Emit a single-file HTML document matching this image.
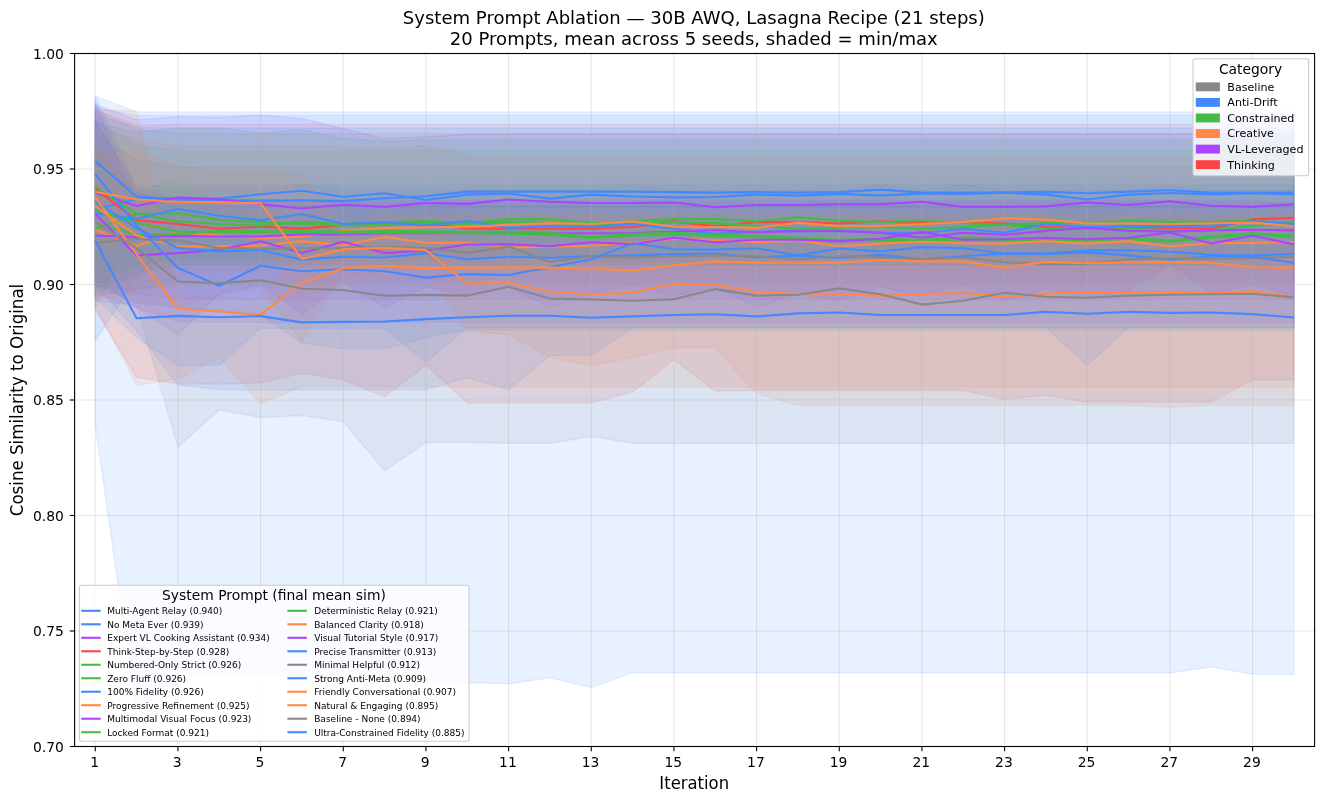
<!DOCTYPE html>
<html lang="en"><head><meta charset="utf-8"><title>System Prompt Ablation</title>
<style>html,body{margin:0;padding:0;background:#fff}svg{display:block}text{font-family:"DejaVu Sans","Liberation Sans",sans-serif;fill:#000}</style></head><body>
<svg width="1324" height="803" viewBox="0 0 1324 803">
<rect width="1324" height="803" fill="#fff"/>
<defs><clipPath id="ax"><rect x="74.6" y="53.5" width="1240.0" height="693.0"/></clipPath></defs>
<g clip-path="url(#ax)">
<g stroke-width="1.39" stroke-linejoin="miter">
<polygon points="95.3,96.2 136.6,186.3 177.9,185.2 219.3,184.7 260.6,184.7 301.9,184.7 343.3,184.7 384.6,184.7 425.9,184.7 467.3,184.7 508.6,184.7 549.9,184.7 591.3,184.7 632.6,184.7 673.9,184.7 715.3,184.7 756.6,184.7 797.9,184.7 839.3,184.7 880.6,184.7 921.9,184.7 963.3,184.7 1004.6,184.7 1045.9,184.7 1087.3,184.7 1128.6,184.7 1169.9,184.7 1211.3,184.7 1252.6,184.7 1293.9,184.7 1293.9,207.1 1252.6,207.1 1211.3,207.1 1169.9,207.1 1128.6,207.1 1087.3,207.1 1045.9,207.1 1004.6,207.1 963.3,207.1 921.9,207.1 880.6,207.1 839.3,207.1 797.9,207.1 756.6,207.1 715.3,207.1 673.9,207.1 632.6,207.1 591.3,207.1 549.9,207.1 508.6,207.1 467.3,207.1 425.9,207.1 384.6,207.1 343.3,207.1 301.9,207.1 260.6,207.1 219.3,215.2 177.9,219.8 136.6,278.7 95.3,340.6" fill="#4488ff" fill-opacity="0.12" stroke="#4488ff" stroke-opacity="0.12"/>
<polygon points="95.3,102.0 136.6,189.8 177.9,190.9 219.3,190.3 260.6,190.3 301.9,184.7 343.3,190.3 384.6,190.3 425.9,190.3 467.3,190.3 508.6,190.3 549.9,190.3 591.3,190.3 632.6,184.7 673.9,190.3 715.3,190.3 756.6,190.3 797.9,190.3 839.3,190.3 880.6,184.7 921.9,190.3 963.3,184.7 1004.6,190.3 1045.9,190.3 1087.3,190.3 1128.6,190.3 1169.9,186.3 1211.3,190.3 1252.6,190.3 1293.9,190.3 1293.9,208.3 1252.6,208.3 1211.3,208.3 1169.9,208.3 1128.6,208.3 1087.3,222.1 1045.9,208.3 1004.6,208.3 963.3,208.3 921.9,208.3 880.6,208.3 839.3,208.3 797.9,208.3 756.6,208.3 715.3,208.3 673.9,208.3 632.6,208.3 591.3,208.3 549.9,208.3 508.6,208.3 467.3,208.3 425.9,215.2 384.6,208.3 343.3,208.3 301.9,208.3 260.6,208.3 219.3,208.3 177.9,215.2 136.6,226.7 95.3,307.6" fill="#4488ff" fill-opacity="0.12" stroke="#4488ff" stroke-opacity="0.12"/>
<polygon points="95.3,104.3 136.6,119.8 177.9,116.8 219.3,117.5 260.6,114.9 301.9,118.6 343.3,128.6 384.6,138.5 425.9,136.7 467.3,134.3 508.6,133.7 549.9,133.7 591.3,133.7 632.6,133.7 673.9,133.7 715.3,133.7 756.6,133.7 797.9,133.7 839.3,133.7 880.6,133.7 921.9,133.7 963.3,133.7 1004.6,133.7 1045.9,133.7 1087.3,133.7 1128.6,133.7 1169.9,133.7 1211.3,133.7 1252.6,133.7 1293.9,133.7 1293.9,299.5 1252.6,299.5 1211.3,299.5 1169.9,299.5 1128.6,299.5 1087.3,299.5 1045.9,299.5 1004.6,299.5 963.3,299.5 921.9,299.5 880.6,299.5 839.3,299.5 797.9,299.5 756.6,299.5 715.3,299.5 673.9,299.5 632.6,299.5 591.3,299.5 549.9,299.5 508.6,299.5 467.3,299.5 425.9,299.5 384.6,299.5 343.3,299.5 301.9,299.5 260.6,299.5 219.3,299.5 177.9,298.4 136.6,293.7 95.3,284.5" fill="#aa44ff" fill-opacity="0.12" stroke="#aa44ff" stroke-opacity="0.12"/>
<polygon points="95.3,109.9 136.6,125.3 177.9,124.4 219.3,124.4 260.6,124.4 301.9,124.4 343.3,124.4 384.6,124.4 425.9,124.4 467.3,124.4 508.6,124.4 549.9,124.4 591.3,124.4 632.6,124.4 673.9,124.4 715.3,124.4 756.6,124.4 797.9,124.4 839.3,124.4 880.6,124.4 921.9,124.4 963.3,124.4 1004.6,124.4 1045.9,124.4 1087.3,124.4 1128.6,124.4 1169.9,124.4 1211.3,124.4 1252.6,124.4 1293.9,124.4 1293.9,379.7 1252.6,379.7 1211.3,402.3 1169.9,402.3 1128.6,402.3 1087.3,402.3 1045.9,395.4 1004.6,399.3 963.3,390.3 921.9,390.3 880.6,390.3 839.3,390.3 797.9,390.3 756.6,390.3 715.3,391.0 673.9,359.8 632.6,392.1 591.3,402.8 549.9,402.8 508.6,402.8 467.3,402.8 425.9,364.9 384.6,396.8 343.3,379.7 301.9,373.4 260.6,382.7 219.3,384.3 177.9,383.6 136.6,377.4 95.3,309.9" fill="#ff4444" fill-opacity="0.12" stroke="#ff4444" stroke-opacity="0.12"/>
<polygon points="95.3,122.8 136.6,132.5 177.9,127.9 219.3,127.9 260.6,133.0 301.9,129.5 343.3,138.5 384.6,141.0 425.9,139.9 467.3,139.9 508.6,139.9 549.9,139.9 591.3,139.9 632.6,139.9 673.9,139.9 715.3,139.9 756.6,139.9 797.9,139.9 839.3,139.9 880.6,139.9 921.9,139.9 963.3,139.9 1004.6,139.9 1045.9,139.9 1087.3,139.9 1128.6,139.9 1169.9,139.9 1211.3,139.9 1252.6,139.9 1293.9,139.9 1293.9,261.4 1252.6,261.4 1211.3,261.4 1169.9,261.4 1128.6,261.4 1087.3,261.4 1045.9,261.4 1004.6,261.4 963.3,261.4 921.9,261.4 880.6,261.4 839.3,261.4 797.9,261.4 756.6,261.4 715.3,261.4 673.9,261.4 632.6,261.4 591.3,261.4 549.9,261.4 508.6,261.4 467.3,261.4 425.9,261.4 384.6,261.4 343.3,261.4 301.9,261.4 260.6,261.4 219.3,261.4 177.9,261.4 136.6,266.0 95.3,272.9" fill="#44bb44" fill-opacity="0.12" stroke="#44bb44" stroke-opacity="0.12"/>
<polygon points="95.3,122.3 136.6,144.7 177.9,150.3 219.3,150.3 260.6,150.3 301.9,150.3 343.3,150.3 384.6,150.3 425.9,150.3 467.3,150.3 508.6,150.3 549.9,150.3 591.3,150.3 632.6,150.3 673.9,150.3 715.3,150.3 756.6,150.3 797.9,150.3 839.3,150.3 880.6,150.3 921.9,150.3 963.3,150.3 1004.6,150.3 1045.9,150.3 1087.3,150.3 1128.6,150.3 1169.9,150.3 1211.3,150.3 1252.6,150.3 1293.9,150.3 1293.9,264.9 1252.6,264.9 1211.3,264.9 1169.9,264.9 1128.6,264.9 1087.3,264.9 1045.9,264.9 1004.6,264.9 963.3,264.9 921.9,264.9 880.6,264.9 839.3,264.9 797.9,264.9 756.6,264.9 715.3,264.9 673.9,264.9 632.6,264.9 591.3,264.9 549.9,264.9 508.6,264.9 467.3,264.9 425.9,264.9 384.6,264.9 343.3,264.9 301.9,264.9 260.6,264.9 219.3,264.9 177.9,264.9 136.6,272.9 95.3,293.7" fill="#44bb44" fill-opacity="0.12" stroke="#44bb44" stroke-opacity="0.12"/>
<polygon points="95.3,114.7 136.6,127.4 177.9,128.1 219.3,128.1 260.6,128.1 301.9,128.1 343.3,128.1 384.6,128.1 425.9,128.1 467.3,128.1 508.6,128.1 549.9,128.1 591.3,128.1 632.6,128.1 673.9,128.1 715.3,128.1 756.6,128.1 797.9,128.1 839.3,128.1 880.6,128.1 921.9,128.1 963.3,128.1 1004.6,128.1 1045.9,128.1 1087.3,128.1 1128.6,128.1 1169.9,128.1 1211.3,128.1 1252.6,128.1 1293.9,128.1 1293.9,327.5 1252.6,327.5 1211.3,327.5 1169.9,327.5 1128.6,327.5 1087.3,365.3 1045.9,327.5 1004.6,327.5 963.3,327.5 921.9,327.5 880.6,327.5 839.3,327.5 797.9,327.5 756.6,327.5 715.3,327.5 673.9,327.5 632.6,327.5 591.3,327.5 549.9,327.5 508.6,327.5 467.3,327.5 425.9,362.3 384.6,328.4 343.3,328.4 301.9,328.4 260.6,328.2 219.3,365.3 177.9,365.3 136.6,337.6 95.3,297.7" fill="#4488ff" fill-opacity="0.12" stroke="#4488ff" stroke-opacity="0.12"/>
<polygon points="95.3,145.9 136.6,192.1 177.9,206.0 219.3,206.0 260.6,206.0 301.9,206.0 343.3,206.0 384.6,206.0 425.9,206.0 467.3,206.0 508.6,206.0 549.9,206.0 591.3,206.0 632.6,206.0 673.9,206.0 715.3,206.0 756.6,206.0 797.9,206.0 839.3,206.0 880.6,206.0 921.9,206.0 963.3,206.0 1004.6,206.0 1045.9,206.0 1087.3,206.0 1128.6,206.0 1169.9,206.0 1211.3,206.0 1252.6,206.0 1293.9,206.0 1293.9,270.6 1252.6,270.6 1211.3,270.6 1169.9,270.6 1128.6,270.6 1087.3,270.6 1045.9,270.6 1004.6,270.6 963.3,270.6 921.9,270.6 880.6,270.6 839.3,270.6 797.9,270.6 756.6,270.6 715.3,270.6 673.9,270.6 632.6,270.6 591.3,270.6 549.9,270.6 508.6,270.6 467.3,270.6 425.9,270.6 384.6,270.6 343.3,270.6 301.9,270.6 260.6,270.6 219.3,270.6 177.9,275.3 136.6,293.7 95.3,298.4" fill="#ff8844" fill-opacity="0.12" stroke="#ff8844" stroke-opacity="0.12"/>
<polygon points="95.3,119.3 136.6,192.1 177.9,202.3 219.3,202.3 260.6,202.3 301.9,202.3 343.3,202.3 384.6,202.3 425.9,202.3 467.3,202.3 508.6,202.3 549.9,202.3 591.3,202.3 632.6,202.3 673.9,202.3 715.3,202.3 756.6,202.3 797.9,202.3 839.3,202.3 880.6,202.3 921.9,202.3 963.3,202.3 1004.6,202.3 1045.9,202.3 1087.3,202.3 1128.6,202.3 1169.9,202.3 1211.3,202.3 1252.6,202.3 1293.9,202.3 1293.9,322.2 1252.6,322.2 1211.3,322.2 1169.9,322.2 1128.6,322.2 1087.3,322.2 1045.9,322.2 1004.6,322.2 963.3,322.2 921.9,322.2 880.6,322.2 839.3,322.2 797.9,322.2 756.6,322.2 715.3,322.2 673.9,322.2 632.6,322.2 591.3,322.2 549.9,322.2 508.6,322.2 467.3,322.2 425.9,322.2 384.6,322.2 343.3,322.2 301.9,322.2 260.6,322.2 219.3,322.2 177.9,321.5 136.6,307.6 95.3,293.7" fill="#aa44ff" fill-opacity="0.12" stroke="#aa44ff" stroke-opacity="0.12"/>
<polygon points="95.3,145.9 136.6,193.5 177.9,176.9 219.3,209.7 260.6,214.0 301.9,214.7 343.3,214.7 384.6,214.7 425.9,214.7 467.3,214.7 508.6,214.7 549.9,214.7 591.3,214.7 632.6,214.7 673.9,214.7 715.3,214.7 756.6,214.7 797.9,214.7 839.3,214.7 880.6,214.7 921.9,214.7 963.3,214.7 1004.6,214.7 1045.9,214.7 1087.3,214.7 1128.6,214.7 1169.9,214.7 1211.3,214.7 1252.6,214.7 1293.9,214.7 1293.9,256.8 1252.6,256.8 1211.3,256.8 1169.9,256.8 1128.6,256.8 1087.3,256.8 1045.9,256.8 1004.6,256.8 963.3,256.8 921.9,256.8 880.6,256.8 839.3,256.8 797.9,256.8 756.6,256.8 715.3,256.8 673.9,256.8 632.6,256.8 591.3,256.8 549.9,256.8 508.6,256.8 467.3,256.8 425.9,256.8 384.6,256.8 343.3,256.8 301.9,256.8 260.6,256.8 219.3,256.8 177.9,256.8 136.6,266.0 95.3,284.5" fill="#44bb44" fill-opacity="0.12" stroke="#44bb44" stroke-opacity="0.12"/>
<polygon points="95.3,157.4 136.6,192.1 177.9,206.0 219.3,206.0 260.6,206.0 301.9,206.0 343.3,206.0 384.6,206.0 425.9,206.0 467.3,206.0 508.6,206.0 549.9,206.0 591.3,206.0 632.6,206.0 673.9,206.0 715.3,206.0 756.6,206.0 797.9,206.0 839.3,206.0 880.6,206.0 921.9,206.0 963.3,206.0 1004.6,206.0 1045.9,206.0 1087.3,206.0 1128.6,206.0 1169.9,206.0 1211.3,206.0 1252.6,206.0 1293.9,206.0 1293.9,264.9 1252.6,264.9 1211.3,264.9 1169.9,264.9 1128.6,264.9 1087.3,264.9 1045.9,264.9 1004.6,264.9 963.3,264.9 921.9,264.9 880.6,264.9 839.3,264.9 797.9,264.9 756.6,264.9 715.3,264.9 673.9,264.9 632.6,264.9 591.3,264.9 549.9,264.9 508.6,264.9 467.3,264.9 425.9,264.9 384.6,264.9 343.3,264.9 301.9,264.9 260.6,264.9 219.3,264.9 177.9,264.9 136.6,272.9 95.3,289.1" fill="#44bb44" fill-opacity="0.12" stroke="#44bb44" stroke-opacity="0.12"/>
<polygon points="95.3,127.4 136.6,139.0 177.9,146.1 219.3,146.1 260.6,146.1 301.9,146.1 343.3,146.1 384.6,146.8 425.9,145.7 467.3,155.4 508.6,155.4 549.9,155.4 591.3,155.4 632.6,155.4 673.9,155.4 715.3,155.4 756.6,155.4 797.9,155.4 839.3,155.4 880.6,155.4 921.9,155.4 963.3,155.4 1004.6,155.4 1045.9,155.4 1087.3,155.4 1128.6,155.4 1169.9,155.4 1211.3,155.4 1252.6,155.4 1293.9,155.4 1293.9,279.2 1252.6,279.2 1211.3,279.2 1169.9,279.2 1128.6,279.2 1087.3,279.2 1045.9,279.2 1004.6,279.2 963.3,279.2 921.9,279.2 880.6,279.2 839.3,279.2 797.9,279.2 756.6,279.2 715.3,279.2 673.9,279.2 632.6,279.2 591.3,279.2 549.9,279.2 508.6,279.2 467.3,279.2 425.9,279.2 384.6,279.2 343.3,272.9 301.9,342.2 260.6,287.3 219.3,296.0 177.9,307.6 136.6,300.7 95.3,284.5" fill="#ff8844" fill-opacity="0.12" stroke="#ff8844" stroke-opacity="0.12"/>
<polygon points="95.3,104.3 136.6,206.0 177.9,201.3 219.3,200.2 260.6,200.2 301.9,200.2 343.3,200.2 384.6,200.2 425.9,200.2 467.3,200.2 508.6,200.2 549.9,200.2 591.3,200.2 632.6,200.2 673.9,200.2 715.3,200.2 756.6,200.2 797.9,200.2 839.3,200.2 880.6,200.2 921.9,200.2 963.3,200.2 1004.6,200.2 1045.9,200.2 1087.3,200.2 1128.6,200.2 1169.9,200.2 1211.3,200.2 1252.6,200.2 1293.9,206.0 1293.9,296.0 1252.6,284.5 1211.3,293.7 1169.9,264.2 1128.6,291.4 1087.3,296.0 1045.9,289.1 1004.6,300.7 963.3,284.5 921.9,296.0 880.6,286.8 839.3,300.7 797.9,293.7 756.6,307.6 715.3,286.8 673.9,296.0 632.6,284.5 591.3,293.7 549.9,307.6 508.6,286.8 467.3,296.0 425.9,286.8 384.6,307.6 343.3,282.2 301.9,314.5 260.6,284.5 219.3,293.7 177.9,334.6 136.6,307.6 95.3,277.6" fill="#aa44ff" fill-opacity="0.12" stroke="#aa44ff" stroke-opacity="0.12"/>
<polygon points="95.3,122.8 136.6,187.5 177.9,201.3 219.3,206.0 260.6,206.0 301.9,206.0 343.3,206.0 384.6,206.0 425.9,206.0 467.3,206.0 508.6,206.0 549.9,206.0 591.3,206.0 632.6,206.0 673.9,206.0 715.3,206.0 756.6,206.0 797.9,206.0 839.3,206.0 880.6,206.0 921.9,206.0 963.3,206.0 1004.6,206.0 1045.9,206.0 1087.3,206.0 1128.6,206.0 1169.9,206.0 1211.3,206.0 1252.6,206.0 1293.9,206.0 1293.9,330.0 1252.6,330.0 1211.3,330.0 1169.9,330.0 1128.6,330.0 1087.3,330.0 1045.9,330.0 1004.6,330.0 963.3,330.0 921.9,330.0 880.6,330.0 839.3,330.0 797.9,330.0 756.6,330.0 715.3,330.0 673.9,330.0 632.6,330.0 591.3,330.0 549.9,330.0 508.6,330.0 467.3,330.0 425.9,337.6 384.6,348.7 343.3,348.7 301.9,342.9 260.6,315.0 219.3,309.9 177.9,307.6 136.6,303.0 95.3,284.5" fill="#4488ff" fill-opacity="0.12" stroke="#4488ff" stroke-opacity="0.12"/>
<polygon points="95.3,134.3 136.6,159.8 177.9,166.7 219.3,167.4 260.6,167.4 301.9,167.4 343.3,167.4 384.6,167.4 425.9,167.4 467.3,167.4 508.6,167.4 549.9,167.4 591.3,167.4 632.6,167.4 673.9,167.4 715.3,167.4 756.6,167.4 797.9,167.4 839.3,167.4 880.6,167.4 921.9,167.4 963.3,167.4 1004.6,167.4 1045.9,167.4 1087.3,167.4 1128.6,167.4 1169.9,167.4 1211.3,167.4 1252.6,167.4 1293.9,167.4 1293.9,284.7 1252.6,284.7 1211.3,284.7 1169.9,284.7 1128.6,284.7 1087.3,284.7 1045.9,284.7 1004.6,284.7 963.3,284.7 921.9,284.7 880.6,284.7 839.3,284.7 797.9,284.7 756.6,284.7 715.3,284.7 673.9,284.7 632.6,284.7 591.3,284.7 549.9,284.7 508.6,284.7 467.3,284.7 425.9,284.7 384.6,284.7 343.3,284.7 301.9,284.7 260.6,284.7 219.3,284.7 177.9,284.7 136.6,289.1 95.3,296.0" fill="#888888" fill-opacity="0.12" stroke="#888888" stroke-opacity="0.12"/>
<polygon points="95.3,107.8 136.6,115.4 177.9,115.4 219.3,115.4 260.6,115.4 301.9,115.4 343.3,115.4 384.6,115.4 425.9,115.4 467.3,115.4 508.6,115.4 549.9,115.4 591.3,115.4 632.6,115.4 673.9,115.4 715.3,115.4 756.6,115.4 797.9,115.4 839.3,115.4 880.6,115.4 921.9,115.4 963.3,115.4 1004.6,115.4 1045.9,115.4 1087.3,115.4 1128.6,115.4 1169.9,115.4 1211.3,115.4 1252.6,115.4 1293.9,115.4 1293.9,327.9 1252.6,327.9 1211.3,327.9 1169.9,327.9 1128.6,327.9 1087.3,327.9 1045.9,327.9 1004.6,327.9 963.3,327.9 921.9,327.9 880.6,327.9 839.3,327.9 797.9,327.9 756.6,327.9 715.3,327.9 673.9,327.9 632.6,327.9 591.3,355.4 549.9,355.4 508.6,389.8 467.3,377.8 425.9,389.8 384.6,389.8 343.3,389.8 301.9,389.8 260.6,389.8 219.3,389.8 177.9,384.8 136.6,330.7 95.3,284.5" fill="#4488ff" fill-opacity="0.12" stroke="#4488ff" stroke-opacity="0.12"/>
<polygon points="95.3,109.9 136.6,110.8 177.9,296.0 219.3,297.2 260.6,298.4 301.9,249.8 343.3,226.7 384.6,215.2 425.9,214.7 467.3,214.7 508.6,214.7 549.9,214.7 591.3,214.7 632.6,214.7 673.9,214.7 715.3,214.7 756.6,214.7 797.9,214.7 839.3,214.7 880.6,214.7 921.9,214.7 963.3,214.7 1004.6,214.7 1045.9,214.7 1087.3,214.7 1128.6,214.7 1169.9,214.7 1211.3,214.7 1252.6,214.7 1293.9,214.7 1293.9,386.8 1252.6,386.8 1211.3,386.8 1169.9,386.8 1128.6,386.8 1087.3,386.8 1045.9,386.8 1004.6,386.8 963.3,386.8 921.9,386.8 880.6,386.8 839.3,386.8 797.9,386.8 756.6,386.8 715.3,386.8 673.9,386.8 632.6,386.8 591.3,386.8 549.9,386.8 508.6,386.8 467.3,386.8 425.9,386.8 384.6,386.8 343.3,386.8 301.9,386.8 260.6,403.5 219.3,357.3 177.9,379.2 136.6,385.2 95.3,305.1" fill="#ff8844" fill-opacity="0.12" stroke="#ff8844" stroke-opacity="0.12"/>
<polygon points="95.3,150.5 136.6,151.0 177.9,166.0 219.3,172.2 260.6,172.7 301.9,175.2 343.3,224.4 384.6,225.6 425.9,226.7 467.3,249.8 508.6,254.5 549.9,256.8 591.3,256.8 632.6,256.8 673.9,256.8 715.3,256.8 756.6,256.8 797.9,256.8 839.3,256.8 880.6,256.8 921.9,256.8 963.3,256.8 1004.6,256.8 1045.9,256.8 1087.3,256.8 1128.6,256.8 1169.9,256.8 1211.3,256.8 1252.6,256.8 1293.9,256.8 1293.9,405.3 1252.6,405.3 1211.3,405.3 1169.9,407.4 1128.6,405.3 1087.3,405.3 1045.9,405.3 1004.6,405.3 963.3,405.3 921.9,405.3 880.6,405.3 839.3,405.3 797.9,405.3 756.6,393.5 715.3,347.8 673.9,347.8 632.6,357.3 591.3,366.0 549.9,357.3 508.6,334.4 467.3,331.2 425.9,267.9 384.6,272.9 343.3,284.5 301.9,296.0 260.6,240.6 219.3,238.3 177.9,238.3 136.6,238.3 95.3,249.8" fill="#ff8844" fill-opacity="0.12" stroke="#ff8844" stroke-opacity="0.12"/>
<polygon points="95.3,109.9 136.6,129.7 177.9,133.2 219.3,133.7 260.6,133.7 301.9,133.7 343.3,133.7 384.6,133.7 425.9,133.7 467.3,133.7 508.6,133.7 549.9,133.7 591.3,133.7 632.6,133.7 673.9,133.7 715.3,133.7 756.6,133.7 797.9,133.7 839.3,133.7 880.6,133.7 921.9,133.7 963.3,133.7 1004.6,133.7 1045.9,133.7 1087.3,133.7 1128.6,133.7 1169.9,133.7 1211.3,133.7 1252.6,133.7 1293.9,133.7 1293.9,443.4 1252.6,443.4 1211.3,443.4 1169.9,443.4 1128.6,443.4 1087.3,443.4 1045.9,443.4 1004.6,443.4 963.3,443.4 921.9,443.4 880.6,443.4 839.3,443.4 797.9,443.4 756.6,443.4 715.3,443.4 673.9,443.4 632.6,443.4 591.3,436.5 549.9,443.2 508.6,443.2 467.3,442.5 425.9,442.5 384.6,470.7 343.3,421.5 301.9,415.5 260.6,417.6 219.3,409.7 177.9,447.1 136.6,305.3 95.3,300.7" fill="#888888" fill-opacity="0.12" stroke="#888888" stroke-opacity="0.12"/>
<polygon points="95.3,96.2 136.6,111.9 177.9,111.9 219.3,111.9 260.6,111.9 301.9,111.9 343.3,111.9 384.6,111.9 425.9,111.9 467.3,111.9 508.6,111.9 549.9,111.9 591.3,111.9 632.6,111.9 673.9,111.9 715.3,111.9 756.6,111.9 797.9,111.9 839.3,111.9 880.6,111.9 921.9,111.9 963.3,111.9 1004.6,111.9 1045.9,111.9 1087.3,111.9 1128.6,111.9 1169.9,111.9 1211.3,111.9 1252.6,111.9 1293.9,111.9 1293.9,674.2 1252.6,674.2 1211.3,666.8 1169.9,673.0 1128.6,673.0 1087.3,673.0 1045.9,673.0 1004.6,673.0 963.3,673.0 921.9,673.0 880.6,673.0 839.3,673.0 797.9,673.0 756.6,673.0 715.3,673.0 673.9,673.0 632.6,672.6 591.3,687.6 549.9,677.7 508.6,683.7 467.3,682.5 425.9,681.4 384.6,680.0 343.3,679.0 301.9,677.2 260.6,674.9 219.3,676.0 177.9,673.5 136.6,714.2 95.3,425.4" fill="#4488ff" fill-opacity="0.12" stroke="#4488ff" stroke-opacity="0.12"/>
</g>
<g stroke="#b0b0b0" stroke-opacity="0.3" stroke-width="1.1">
<line x1="95.27" x2="95.27" y1="53.5" y2="746.5"/>
<line x1="177.93" x2="177.93" y1="53.5" y2="746.5"/>
<line x1="260.60" x2="260.60" y1="53.5" y2="746.5"/>
<line x1="343.27" x2="343.27" y1="53.5" y2="746.5"/>
<line x1="425.93" x2="425.93" y1="53.5" y2="746.5"/>
<line x1="508.60" x2="508.60" y1="53.5" y2="746.5"/>
<line x1="591.27" x2="591.27" y1="53.5" y2="746.5"/>
<line x1="673.93" x2="673.93" y1="53.5" y2="746.5"/>
<line x1="756.60" x2="756.60" y1="53.5" y2="746.5"/>
<line x1="839.27" x2="839.27" y1="53.5" y2="746.5"/>
<line x1="921.93" x2="921.93" y1="53.5" y2="746.5"/>
<line x1="1004.60" x2="1004.60" y1="53.5" y2="746.5"/>
<line x1="1087.27" x2="1087.27" y1="53.5" y2="746.5"/>
<line x1="1169.93" x2="1169.93" y1="53.5" y2="746.5"/>
<line x1="1252.60" x2="1252.60" y1="53.5" y2="746.5"/>
<line x1="74.6" x2="1314.6" y1="746.50" y2="746.50"/>
<line x1="74.6" x2="1314.6" y1="631.00" y2="631.00"/>
<line x1="74.6" x2="1314.6" y1="515.50" y2="515.50"/>
<line x1="74.6" x2="1314.6" y1="400.00" y2="400.00"/>
<line x1="74.6" x2="1314.6" y1="284.50" y2="284.50"/>
<line x1="74.6" x2="1314.6" y1="169.00" y2="169.00"/>
<line x1="74.6" x2="1314.6" y1="53.50" y2="53.50"/>
</g>
<g fill="none" stroke-width="2.08" stroke-linejoin="round" stroke-linecap="butt">
<polyline points="95.3,161.1 136.6,196.5 177.9,199.5 219.3,200.0 260.6,200.6 301.9,200.4 343.3,201.1 384.6,198.3 425.9,196.3 467.3,191.6 508.6,191.6 549.9,191.6 591.3,191.6 632.6,191.6 673.9,192.1 715.3,192.6 756.6,192.1 797.9,192.6 839.3,192.1 880.6,189.6 921.9,192.6 963.3,192.6 1004.6,192.6 1045.9,191.9 1087.3,193.3 1128.6,191.6 1169.9,190.3 1211.3,192.6 1252.6,192.6 1293.9,192.6" stroke="#4488ff"/>
<polyline points="95.3,209.4 136.6,199.0 177.9,198.1 219.3,198.6 260.6,194.2 301.9,190.7 343.3,196.7 384.6,193.3 425.9,200.0 467.3,194.6 508.6,193.5 549.9,198.6 591.3,194.6 632.6,196.5 673.9,197.4 715.3,197.0 756.6,194.6 797.9,195.6 839.3,193.9 880.6,195.6 921.9,193.5 963.3,193.9 1004.6,192.6 1045.9,194.6 1087.3,199.5 1128.6,194.6 1169.9,193.0 1211.3,194.4 1252.6,193.3 1293.9,194.4" stroke="#4488ff"/>
<polyline points="95.3,192.8 136.6,206.0 177.9,197.4 219.3,199.5 260.6,204.1 301.9,208.5 343.3,204.8 384.6,206.9 425.9,203.0 467.3,203.9 508.6,199.5 549.9,201.8 591.3,203.0 632.6,203.0 673.9,202.5 715.3,207.3 756.6,205.0 797.9,205.0 839.3,204.3 880.6,204.3 921.9,201.8 963.3,206.9 1004.6,206.9 1045.9,206.4 1087.3,202.5 1128.6,205.0 1169.9,201.3 1211.3,205.7 1252.6,206.9 1293.9,204.1" stroke="#aa44ff"/>
<polyline points="95.3,188.6 136.6,220.3 177.9,224.0 219.3,228.8 260.6,226.7 301.9,228.6 343.3,224.9 384.6,224.9 425.9,223.3 467.3,228.8 508.6,228.8 549.9,228.8 591.3,228.8 632.6,227.0 673.9,221.4 715.3,226.1 756.6,222.1 797.9,222.1 839.3,223.5 880.6,221.4 921.9,223.1 963.3,222.6 1004.6,223.5 1045.9,227.0 1087.3,227.4 1128.6,227.9 1169.9,228.4 1211.3,228.4 1252.6,219.4 1293.9,217.7" stroke="#ff4444"/>
<polyline points="95.3,187.0 136.6,213.8 177.9,221.4 219.3,224.0 260.6,225.6 301.9,221.7 343.3,224.0 384.6,222.6 425.9,221.0 467.3,223.3 508.6,219.1 549.9,219.1 591.3,223.1 632.6,221.4 673.9,218.7 715.3,219.1 756.6,221.4 797.9,217.0 839.3,220.7 880.6,222.1 921.9,220.7 963.3,223.1 1004.6,224.9 1045.9,223.1 1087.3,223.1 1128.6,220.7 1169.9,221.9 1211.3,221.9 1252.6,221.4 1293.9,222.6" stroke="#44bb44"/>
<polyline points="95.3,228.8 136.6,214.3 177.9,213.1 219.3,219.8 260.6,222.1 301.9,224.0 343.3,225.6 384.6,224.9 425.9,223.1 467.3,224.0 508.6,222.1 549.9,222.6 591.3,225.6 632.6,224.0 673.9,222.1 715.3,223.1 756.6,226.1 797.9,228.8 839.3,227.9 880.6,227.0 921.9,228.8 963.3,227.0 1004.6,224.7 1045.9,228.8 1087.3,227.9 1128.6,228.8 1169.9,230.0 1211.3,230.0 1252.6,225.8 1293.9,224.0" stroke="#44bb44"/>
<polyline points="95.3,213.4 136.6,218.9 177.9,209.0 219.3,215.7 260.6,220.3 301.9,214.0 343.3,224.0 384.6,222.4 425.9,225.6 467.3,221.0 508.6,227.9 549.9,226.1 591.3,227.0 632.6,224.0 673.9,228.8 715.3,233.9 756.6,231.8 797.9,231.4 839.3,230.9 880.6,232.5 921.9,233.2 963.3,228.8 1004.6,232.8 1045.9,224.0 1087.3,227.0 1128.6,226.1 1169.9,226.3 1211.3,225.8 1252.6,221.2 1293.9,224.0" stroke="#4488ff"/>
<polyline points="95.3,229.8 136.6,245.9 177.9,232.3 219.3,235.5 260.6,238.1 301.9,236.5 343.3,230.7 384.6,228.1 425.9,227.2 467.3,226.7 508.6,224.9 549.9,223.1 591.3,224.0 632.6,221.4 673.9,226.7 715.3,227.0 756.6,227.9 797.9,222.6 839.3,226.1 880.6,226.1 921.9,224.0 963.3,222.1 1004.6,218.2 1045.9,219.6 1087.3,223.5 1128.6,223.5 1169.9,224.0 1211.3,223.3 1252.6,222.6 1293.9,226.3" stroke="#ff8844"/>
<polyline points="95.3,235.5 136.6,237.1 177.9,236.0 219.3,236.5 260.6,236.5 301.9,234.4 343.3,234.4 384.6,233.2 425.9,233.2 467.3,233.0 508.6,233.2 549.9,233.2 591.3,233.2 632.6,233.0 673.9,231.8 715.3,230.0 756.6,232.5 797.9,230.9 839.3,230.9 880.6,232.8 921.9,237.8 963.3,232.8 1004.6,234.8 1045.9,230.9 1087.3,227.9 1128.6,230.9 1169.9,231.6 1211.3,230.4 1252.6,229.8 1293.9,230.4" stroke="#aa44ff"/>
<polyline points="95.3,210.1 136.6,222.8 177.9,231.8 219.3,231.8 260.6,232.3 301.9,230.2 343.3,231.8 384.6,230.9 425.9,231.4 467.3,231.8 508.6,231.8 549.9,232.8 591.3,236.7 632.6,233.7 673.9,232.8 715.3,234.8 756.6,235.8 797.9,237.8 839.3,239.7 880.6,238.8 921.9,239.7 963.3,237.8 1004.6,238.8 1045.9,238.8 1087.3,238.8 1128.6,237.8 1169.9,240.6 1211.3,236.2 1252.6,233.4 1293.9,235.5" stroke="#44bb44"/>
<polyline points="95.3,223.1 136.6,234.8 177.9,234.1 219.3,230.7 260.6,231.4 301.9,232.3 343.3,233.2 384.6,232.5 425.9,232.8 467.3,233.2 508.6,233.7 549.9,234.8 591.3,238.3 632.6,235.5 673.9,234.4 715.3,236.0 756.6,237.1 797.9,239.2 839.3,241.1 880.6,240.1 921.9,241.1 963.3,239.2 1004.6,240.1 1045.9,240.1 1087.3,240.1 1128.6,239.2 1169.9,241.8 1211.3,237.6 1252.6,234.8 1293.9,236.9" stroke="#44bb44"/>
<polyline points="95.3,206.4 136.6,235.5 177.9,246.4 219.3,246.4 260.6,245.5 301.9,241.1 343.3,245.2 384.6,236.9 425.9,242.7 467.3,242.7 508.6,247.5 549.9,246.6 591.3,245.7 632.6,242.7 673.9,238.8 715.3,240.1 756.6,242.2 797.9,240.4 839.3,246.2 880.6,243.6 921.9,241.8 963.3,243.2 1004.6,243.6 1045.9,241.1 1087.3,243.6 1128.6,241.1 1169.9,246.4 1211.3,243.2 1252.6,242.9 1293.9,242.0" stroke="#ff8844"/>
<polyline points="95.3,214.0 136.6,255.4 177.9,253.1 219.3,249.6 260.6,241.3 301.9,253.1 343.3,241.8 384.6,253.1 425.9,250.5 467.3,244.5 508.6,244.3 549.9,246.2 591.3,242.2 632.6,244.3 673.9,237.8 715.3,242.2 756.6,239.7 797.9,239.7 839.3,241.1 880.6,238.8 921.9,231.8 963.3,239.7 1004.6,239.2 1045.9,237.8 1087.3,239.2 1128.6,237.8 1169.9,232.5 1211.3,243.4 1252.6,235.8 1293.9,244.3" stroke="#aa44ff"/>
<polyline points="95.3,201.6 136.6,228.1 177.9,248.0 219.3,251.5 260.6,250.1 301.9,259.8 343.3,256.8 384.6,257.5 425.9,253.1 467.3,259.3 508.6,256.8 549.9,257.7 591.3,256.3 632.6,255.4 673.9,254.0 715.3,253.5 756.6,257.5 797.9,255.4 839.3,257.9 880.6,254.9 921.9,259.3 963.3,256.3 1004.6,253.5 1045.9,254.0 1087.3,252.4 1128.6,255.4 1169.9,259.8 1211.3,256.1 1252.6,255.4 1293.9,254.0" stroke="#4488ff"/>
<polyline points="95.3,242.9 136.6,239.0 177.9,240.6 219.3,248.0 260.6,248.9 301.9,248.2 343.3,248.0 384.6,246.8 425.9,248.0 467.3,252.9 508.6,246.6 549.9,261.9 591.3,256.3 632.6,257.5 673.9,256.3 715.3,255.4 756.6,256.3 797.9,259.3 839.3,256.3 880.6,257.5 921.9,259.3 963.3,257.5 1004.6,262.3 1045.9,264.2 1087.3,263.9 1128.6,259.3 1169.9,258.6 1211.3,258.6 1252.6,257.9 1293.9,257.0" stroke="#888888"/>
<polyline points="95.3,174.1 136.6,225.6 177.9,267.9 219.3,285.7 260.6,265.8 301.9,271.3 343.3,269.3 384.6,271.3 425.9,277.6 467.3,274.1 508.6,275.0 549.9,267.2 591.3,259.3 632.6,243.2 673.9,249.2 715.3,249.6 756.6,248.2 797.9,255.4 839.3,248.5 880.6,251.5 921.9,247.1 963.3,248.2 1004.6,253.5 1045.9,253.5 1087.3,250.5 1128.6,250.1 1169.9,251.7 1211.3,254.7 1252.6,256.3 1293.9,263.0" stroke="#4488ff"/>
<polyline points="95.3,197.4 136.6,254.5 177.9,308.5 219.3,311.5 260.6,314.8 301.9,282.2 343.3,268.3 384.6,266.0 425.9,268.1 467.3,267.6 508.6,267.6 549.9,267.6 591.3,268.8 632.6,270.6 673.9,265.3 715.3,261.4 756.6,262.8 797.9,262.8 839.3,262.8 880.6,260.0 921.9,261.4 963.3,261.4 1004.6,267.6 1045.9,261.9 1087.3,263.2 1128.6,262.3 1169.9,262.1 1211.3,262.8 1252.6,267.2 1293.9,267.9" stroke="#ff8844"/>
<polyline points="95.3,192.1 136.6,199.3 177.9,202.3 219.3,202.3 260.6,203.4 301.9,258.9 343.3,249.4 384.6,247.8 425.9,250.1 467.3,283.8 508.6,282.4 549.9,291.7 591.3,294.2 632.6,292.8 673.9,283.6 715.3,285.0 756.6,292.1 797.9,293.7 839.3,293.7 880.6,295.6 921.9,294.2 963.3,292.8 1004.6,296.7 1045.9,293.7 1087.3,291.7 1128.6,293.0 1169.9,291.7 1211.3,293.3 1252.6,291.4 1293.9,296.5" stroke="#ff8844"/>
<polyline points="95.3,222.4 136.6,248.0 177.9,281.5 219.3,283.3 260.6,280.3 301.9,288.7 343.3,290.0 384.6,295.8 425.9,294.9 467.3,295.6 508.6,286.8 549.9,298.6 591.3,299.5 632.6,300.7 673.9,299.3 715.3,289.1 756.6,295.6 797.9,294.7 839.3,288.4 880.6,294.2 921.9,304.6 963.3,300.7 1004.6,292.8 1045.9,296.7 1087.3,297.7 1128.6,295.6 1169.9,294.7 1211.3,294.2 1252.6,293.7 1293.9,297.4" stroke="#888888"/>
<polyline points="95.3,241.1 136.6,318.2 177.9,315.9 219.3,317.3 260.6,316.1 301.9,322.4 343.3,321.9 384.6,321.5 425.9,319.1 467.3,317.3 508.6,315.7 549.9,315.7 591.3,317.8 632.6,316.4 673.9,315.0 715.3,314.3 756.6,316.4 797.9,313.4 839.3,312.5 880.6,315.0 921.9,315.0 963.3,315.0 1004.6,315.0 1045.9,311.8 1087.3,313.8 1128.6,311.8 1169.9,312.9 1211.3,312.5 1252.6,314.1 1293.9,317.5" stroke="#4488ff"/>
</g>
</g>
<rect x="74.6" y="53.5" width="1240.0" height="693.0" fill="none" stroke="#000" stroke-width="1.1"/>
<g stroke="#000" stroke-width="1.1">
<line x1="95.27" x2="95.27" y1="746.5" y2="751.36"/>
<line x1="177.93" x2="177.93" y1="746.5" y2="751.36"/>
<line x1="260.60" x2="260.60" y1="746.5" y2="751.36"/>
<line x1="343.27" x2="343.27" y1="746.5" y2="751.36"/>
<line x1="425.93" x2="425.93" y1="746.5" y2="751.36"/>
<line x1="508.60" x2="508.60" y1="746.5" y2="751.36"/>
<line x1="591.27" x2="591.27" y1="746.5" y2="751.36"/>
<line x1="673.93" x2="673.93" y1="746.5" y2="751.36"/>
<line x1="756.60" x2="756.60" y1="746.5" y2="751.36"/>
<line x1="839.27" x2="839.27" y1="746.5" y2="751.36"/>
<line x1="921.93" x2="921.93" y1="746.5" y2="751.36"/>
<line x1="1004.60" x2="1004.60" y1="746.5" y2="751.36"/>
<line x1="1087.27" x2="1087.27" y1="746.5" y2="751.36"/>
<line x1="1169.93" x2="1169.93" y1="746.5" y2="751.36"/>
<line x1="1252.60" x2="1252.60" y1="746.5" y2="751.36"/>
<line x1="69.74" x2="74.6" y1="746.50" y2="746.50"/>
<line x1="69.74" x2="74.6" y1="631.00" y2="631.00"/>
<line x1="69.74" x2="74.6" y1="515.50" y2="515.50"/>
<line x1="69.74" x2="74.6" y1="400.00" y2="400.00"/>
<line x1="69.74" x2="74.6" y1="284.50" y2="284.50"/>
<line x1="69.74" x2="74.6" y1="169.00" y2="169.00"/>
<line x1="69.74" x2="74.6" y1="53.50" y2="53.50"/>
</g>
<g font-size="13.89px">
<text x="94.57" y="766.8" text-anchor="middle">1</text>
<text x="177.23" y="766.8" text-anchor="middle">3</text>
<text x="259.90" y="766.8" text-anchor="middle">5</text>
<text x="342.57" y="766.8" text-anchor="middle">7</text>
<text x="425.23" y="766.8" text-anchor="middle">9</text>
<text x="507.90" y="766.8" text-anchor="middle">11</text>
<text x="590.57" y="766.8" text-anchor="middle">13</text>
<text x="673.23" y="766.8" text-anchor="middle">15</text>
<text x="755.90" y="766.8" text-anchor="middle">17</text>
<text x="838.57" y="766.8" text-anchor="middle">19</text>
<text x="921.23" y="766.8" text-anchor="middle">21</text>
<text x="1003.90" y="766.8" text-anchor="middle">23</text>
<text x="1086.57" y="766.8" text-anchor="middle">25</text>
<text x="1169.23" y="766.8" text-anchor="middle">27</text>
<text x="1251.90" y="766.8" text-anchor="middle">29</text>
<text x="63.9" y="751.80" text-anchor="end">0.70</text>
<text x="63.9" y="636.30" text-anchor="end">0.75</text>
<text x="63.9" y="520.80" text-anchor="end">0.80</text>
<text x="63.9" y="405.30" text-anchor="end">0.85</text>
<text x="63.9" y="289.80" text-anchor="end">0.90</text>
<text x="63.9" y="174.30" text-anchor="end">0.95</text>
<text x="63.9" y="58.80" text-anchor="end">1.00</text>
</g>
<text transform="translate(694.2,788.6) scale(0.987,1.085)" font-size="16.67px" text-anchor="middle">Iteration</text>
<text transform="translate(22.6,400) rotate(-90) scale(1,1.09)" font-size="16.67px" text-anchor="middle">Cosine Similarity to Original</text>
<text x="693.8" y="23.6" font-size="18.06px" text-anchor="middle">System Prompt Ablation — 30B AWQ, Lasagna Recipe (21 steps)</text>
<text x="693.8" y="44.7" font-size="18.06px" text-anchor="middle">20 Prompts, mean across 5 seeds, shaded = min/max</text>
<g>
<rect x="1193" y="58.8" width="115.6" height="117.0" rx="2.8" ry="2.8" fill="#fff" fill-opacity="0.8" stroke="#ccc" stroke-width="1.1"/>
<text x="1250.6" y="73.9" font-size="13.89px" text-anchor="middle">Category</text>
<rect x="1195.8" y="82.40" width="24.1" height="8.9" fill="#888888"/>
<text x="1227.3" y="90.70" font-size="11.11px">Baseline</text>
<rect x="1195.8" y="97.96" width="24.1" height="8.9" fill="#4488ff"/>
<text x="1227.3" y="106.26" font-size="11.11px">Anti-Drift</text>
<rect x="1195.8" y="113.52" width="24.1" height="8.9" fill="#44bb44"/>
<text x="1227.3" y="121.82" font-size="11.11px">Constrained</text>
<rect x="1195.8" y="129.08" width="24.1" height="8.9" fill="#ff8844"/>
<text x="1227.3" y="137.38" font-size="11.11px">Creative</text>
<rect x="1195.8" y="144.64" width="24.1" height="8.9" fill="#aa44ff"/>
<text x="1227.3" y="152.94" font-size="11.11px">VL-Leveraged</text>
<rect x="1195.8" y="160.20" width="24.1" height="8.9" fill="#ff4444"/>
<text x="1227.3" y="168.50" font-size="11.11px">Thinking</text>
</g>
<g>
<rect x="79.5" y="585.3" width="389.6" height="155.9" rx="2.3" ry="2.3" fill="#fff" fill-opacity="0.8" stroke="#ccc" stroke-width="1.1"/>
<text x="273.9" y="599.9" font-size="13.89px" text-anchor="middle">System Prompt (final mean sim)</text>
<line x1="81.2" x2="100.7" y1="610.80" y2="610.80" stroke="#4488ff" stroke-width="2.08"/>
<text x="107.2" y="614.10" font-size="9.03px">Multi-Agent Relay (0.940)</text>
<line x1="81.2" x2="100.7" y1="624.29" y2="624.29" stroke="#4488ff" stroke-width="2.08"/>
<text x="107.2" y="627.59" font-size="9.03px">No Meta Ever (0.939)</text>
<line x1="81.2" x2="100.7" y1="637.78" y2="637.78" stroke="#aa44ff" stroke-width="2.08"/>
<text x="107.2" y="641.08" font-size="9.03px">Expert VL Cooking Assistant (0.934)</text>
<line x1="81.2" x2="100.7" y1="651.27" y2="651.27" stroke="#ff4444" stroke-width="2.08"/>
<text x="107.2" y="654.57" font-size="9.03px">Think-Step-by-Step (0.928)</text>
<line x1="81.2" x2="100.7" y1="664.76" y2="664.76" stroke="#44bb44" stroke-width="2.08"/>
<text x="107.2" y="668.06" font-size="9.03px">Numbered-Only Strict (0.926)</text>
<line x1="81.2" x2="100.7" y1="678.25" y2="678.25" stroke="#44bb44" stroke-width="2.08"/>
<text x="107.2" y="681.55" font-size="9.03px">Zero Fluff (0.926)</text>
<line x1="81.2" x2="100.7" y1="691.74" y2="691.74" stroke="#4488ff" stroke-width="2.08"/>
<text x="107.2" y="695.04" font-size="9.03px">100% Fidelity (0.926)</text>
<line x1="81.2" x2="100.7" y1="705.23" y2="705.23" stroke="#ff8844" stroke-width="2.08"/>
<text x="107.2" y="708.53" font-size="9.03px">Progressive Refinement (0.925)</text>
<line x1="81.2" x2="100.7" y1="718.72" y2="718.72" stroke="#aa44ff" stroke-width="2.08"/>
<text x="107.2" y="722.02" font-size="9.03px">Multimodal Visual Focus (0.923)</text>
<line x1="81.2" x2="100.7" y1="732.21" y2="732.21" stroke="#44bb44" stroke-width="2.08"/>
<text x="107.2" y="735.51" font-size="9.03px">Locked Format (0.921)</text>
<line x1="287.4" x2="306.9" y1="610.80" y2="610.80" stroke="#44bb44" stroke-width="2.08"/>
<text x="314.2" y="614.10" font-size="9.03px">Deterministic Relay (0.921)</text>
<line x1="287.4" x2="306.9" y1="624.29" y2="624.29" stroke="#ff8844" stroke-width="2.08"/>
<text x="314.2" y="627.59" font-size="9.03px">Balanced Clarity (0.918)</text>
<line x1="287.4" x2="306.9" y1="637.78" y2="637.78" stroke="#aa44ff" stroke-width="2.08"/>
<text x="314.2" y="641.08" font-size="9.03px">Visual Tutorial Style (0.917)</text>
<line x1="287.4" x2="306.9" y1="651.27" y2="651.27" stroke="#4488ff" stroke-width="2.08"/>
<text x="314.2" y="654.57" font-size="9.03px">Precise Transmitter (0.913)</text>
<line x1="287.4" x2="306.9" y1="664.76" y2="664.76" stroke="#888888" stroke-width="2.08"/>
<text x="314.2" y="668.06" font-size="9.03px">Minimal Helpful (0.912)</text>
<line x1="287.4" x2="306.9" y1="678.25" y2="678.25" stroke="#4488ff" stroke-width="2.08"/>
<text x="314.2" y="681.55" font-size="9.03px">Strong Anti-Meta (0.909)</text>
<line x1="287.4" x2="306.9" y1="691.74" y2="691.74" stroke="#ff8844" stroke-width="2.08"/>
<text x="314.2" y="695.04" font-size="9.03px">Friendly Conversational (0.907)</text>
<line x1="287.4" x2="306.9" y1="705.23" y2="705.23" stroke="#ff8844" stroke-width="2.08"/>
<text x="314.2" y="708.53" font-size="9.03px">Natural &amp; Engaging (0.895)</text>
<line x1="287.4" x2="306.9" y1="718.72" y2="718.72" stroke="#888888" stroke-width="2.08"/>
<text x="314.2" y="722.02" font-size="9.03px">Baseline - None (0.894)</text>
<line x1="287.4" x2="306.9" y1="732.21" y2="732.21" stroke="#4488ff" stroke-width="2.08"/>
<text x="314.2" y="735.51" font-size="9.03px">Ultra-Constrained Fidelity (0.885)</text>
</g>
</svg></body></html>
